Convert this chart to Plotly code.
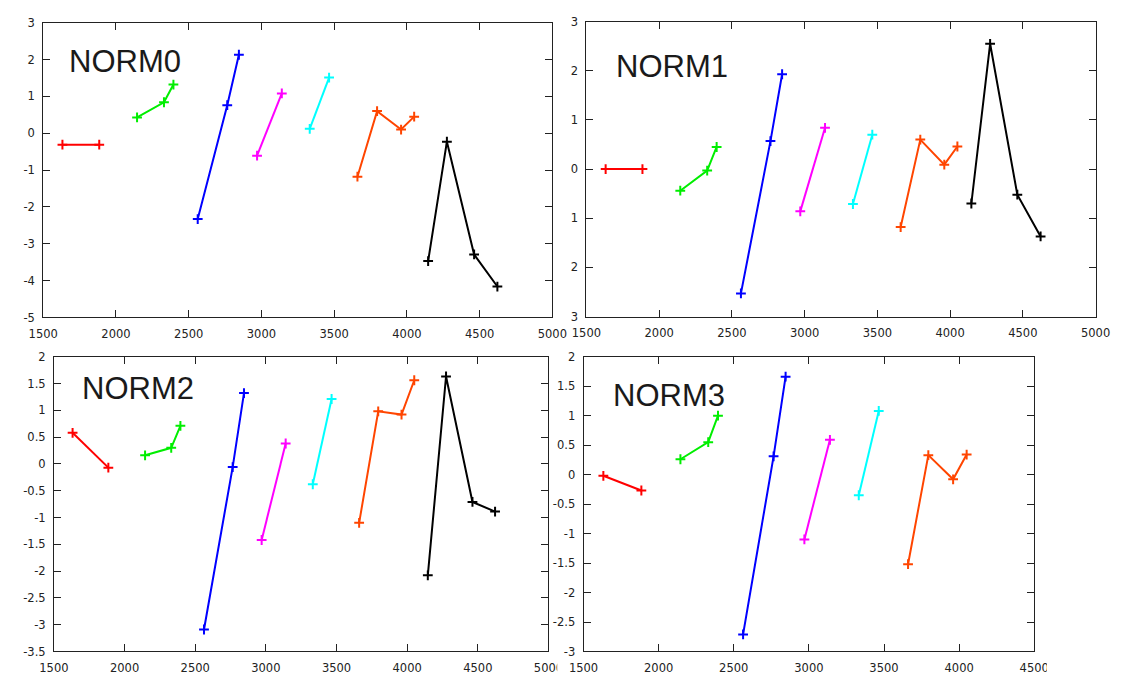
import plotly.graph_objects as go

W, H = 1132, 682

# ---- data (x positions shared by all panels) ----
X_RED = [1632, 1885]
X_GREEN = [2145, 2330, 2395]
X_BLUE = [2562, 2765, 2845]
X_MAGENTA = [2970, 3140]
X_CYAN = [3332, 3465]
X_ORANGE = [3660, 3795, 3960, 4050]
X_BLACK = [4146, 4275, 4462, 4622]

NORM0_RED = [-0.31, -0.31]
NORM0_GREEN = [0.43, 0.84, 1.32]
NORM0_BLUE = [-2.33, 0.76, 2.13]
NORM0_MAGENTA = [-0.61, 1.08]
NORM0_CYAN = [0.12, 1.51]
NORM0_ORANGE = [-1.18, 0.60, 0.10, 0.45]
NORM0_BLACK = [-3.47, -0.23, -3.29, -4.16]

NORM1_RED = [0.0, 0.0]
NORM1_GREEN = [-0.44, -0.03, 0.45]
NORM1_BLUE = [-2.53, 0.57, 1.93]
NORM1_MAGENTA = [-0.86, 0.84]
NORM1_CYAN = [-0.71, 0.70]
NORM1_ORANGE = [-1.18, 0.60, 0.09, 0.46]
NORM1_BLACK = [-0.70, 2.55, -0.52, -1.37]

NORM2_RED = [0.58, -0.07]
NORM2_GREEN = [0.16, 0.30, 0.71]
NORM2_BLUE = [-3.09, -0.06, 1.32]
NORM2_MAGENTA = [-1.42, 0.38]
NORM2_CYAN = [-0.38, 1.21]
NORM2_ORANGE = [-1.10, 0.98, 0.92, 1.56]
NORM2_BLACK = [-2.08, 1.63, -0.71, -0.89]

NORM3_RED = [-0.02, -0.27]
NORM3_GREEN = [0.26, 0.55, 1.00]
NORM3_BLUE = [-2.71, 0.31, 1.66]
NORM3_MAGENTA = [-1.10, 0.59]
NORM3_CYAN = [-0.35, 1.08]
NORM3_ORANGE = [-1.52, 0.33, -0.08, 0.34]

PANEL_TITLES = ["NORM0", "NORM1", "NORM2", "NORM3"]

X_TICKS_A = [1500, 2000, 2500, 3000, 3500, 4000, 4500, 5000]
X_TICKS_B = [1500, 2000, 2500, 3000, 3500, 4000, 4500]

Y0_TICKS = [-5, -4, -3, -2, -1, 0, 1, 2, 3]
Y0_LABELS = ["-5", "-4", "-3", "-2", "-1", "0", "1", "2", "3"]
Y1_TICKS = [-3, -2, -1, 0, 1, 2, 3]
Y1_LABELS = ["3", "2", "1", "0", "1", "2", "3"]
Y2_TICKS = [-3.5, -3, -2.5, -2, -1.5, -1, -0.5, 0, 0.5, 1, 1.5, 2]
Y2_LABELS = ["-3.5", "-3", "-2.5", "-2", "-1.5", "-1", "-0.5", "0", "0.5", "1", "1.5", "2"]
Y3_TICKS = [-3, -2.5, -2, -1.5, -1, -0.5, 0, 0.5, 1, 1.5, 2]
Y3_LABELS = ["-3", "-2.5", "-2", "-1.5", "-1", "-0.5", "0", "0.5", "1", "1.5", "2"]

COLORS = {
    "red": "#ff0000",
    "green": "#00ee00",
    "blue": "#0000ff",
    "magenta": "#ff00ff",
    "cyan": "#00ffff",
    "orange": "#ff4500",
    "black": "#000000",
}

X_SERIES = {
    "red": X_RED, "green": X_GREEN, "blue": X_BLUE, "magenta": X_MAGENTA,
    "cyan": X_CYAN, "orange": X_ORANGE, "black": X_BLACK,
}

PANELS = [
    {"red": NORM0_RED, "green": NORM0_GREEN, "blue": NORM0_BLUE, "magenta": NORM0_MAGENTA,
     "cyan": NORM0_CYAN, "orange": NORM0_ORANGE, "black": NORM0_BLACK},
    {"red": NORM1_RED, "green": NORM1_GREEN, "blue": NORM1_BLUE, "magenta": NORM1_MAGENTA,
     "cyan": NORM1_CYAN, "orange": NORM1_ORANGE, "black": NORM1_BLACK},
    {"red": NORM2_RED, "green": NORM2_GREEN, "blue": NORM2_BLUE, "magenta": NORM2_MAGENTA,
     "cyan": NORM2_CYAN, "orange": NORM2_ORANGE, "black": NORM2_BLACK},
    {"red": NORM3_RED, "green": NORM3_GREEN, "blue": NORM3_BLUE, "magenta": NORM3_MAGENTA,
     "cyan": NORM3_CYAN, "orange": NORM3_ORANGE},
]

# pixel boxes of each plot area: (left, right, top, bottom)
BOXES = [(29, 552, 16, 317), (587, 1110, 15, 316), (40, 548, 357, 658), (584, 1047, 357, 658)]
X_RANGES = [[1500, 5000], [1500, 5000], [1500, 5000], [1500, 4500]]
X_TICKS = [X_TICKS_A, X_TICKS_A, X_TICKS_A, X_TICKS_B]
Y_RANGES = [[-5, 3], [-3, 3], [-3.5, 2], [-3, 2]]
Y_TICKS = [(Y0_TICKS, Y0_LABELS), (Y1_TICKS, Y1_LABELS), (Y2_TICKS, Y2_LABELS), (Y3_TICKS, Y3_LABELS)]
TITLE_POS = [(53, 56), (615, 61), (67, 390), (612, 397)]

fig = go.Figure()
layout = {}
tick_font = dict(family="DejaVu Sans", size=11.5, color="#222222")

for i, panel in enumerate(PANELS):
    n = "" if i == 0 else str(i + 1)
    xa, ya = "x" + n, "y" + n
    for name, yvals in panel.items():
        c = COLORS[name]
        fig.add_trace(go.Scatter(
            x=X_SERIES[name], y=yvals, xaxis=xa, yaxis=ya, mode="lines+markers",
            line=dict(color=c, width=2),
            marker=dict(symbol="cross-thin", size=7, line=dict(color=c, width=2)),
            showlegend=False, cliponaxis=False,
        ))
    l, r, t, b = BOXES[i]
    layout["xaxis" + n] = dict(
        domain=[l / W, r / W], range=X_RANGES[i], anchor=ya,
        tickvals=X_TICKS[i], ticktext=[str(v) for v in X_TICKS[i]],
        ticks="inside", ticklen=7, tickcolor="#222", tickwidth=1,
        showline=True, linecolor="#222", linewidth=1, mirror="allticks",
        showgrid=False, zeroline=False, tickfont=tick_font, ticklabelstandoff=6,
        fixedrange=True,
    )
    tv, tt = Y_TICKS[i]
    layout["yaxis" + n] = dict(
        domain=[1 - b / H, 1 - t / H], range=Y_RANGES[i], anchor=xa,
        tickvals=tv, ticktext=tt,
        ticks="inside", ticklen=7, tickcolor="#222", tickwidth=1,
        showline=True, linecolor="#222", linewidth=1, mirror="allticks",
        showgrid=False, zeroline=False, tickfont=tick_font, ticklabelstandoff=5,
        fixedrange=True,
    )

annotations = []
for i, title in enumerate(PANEL_TITLES):
    px, py = TITLE_POS[i]
    annotations.append(dict(
        text=title, x=px / W, y=1 - py / H, xref="paper", yref="paper",
        xanchor="left", yanchor="middle", showarrow=False,
        font=dict(family="Liberation Sans", size=31, color="#1a1a1a"),
    ))

# white masks reproducing the cropped edges of the composite picture
shapes = [
    dict(type="rect", xref="paper", yref="paper", layer="above",
         x0=557 / W, x1=568 / W, y0=0, y1=1 - 665 / H,
         fillcolor="white", line=dict(width=0)),
    dict(type="rect", xref="paper", yref="paper", layer="above",
         x0=1060 / W, x1=1, y0=0, y1=1 - 340 / H,
         fillcolor="white", line=dict(width=0)),
]

fig.update_layout(
    width=W, height=H, margin=dict(l=0, r=0, t=0, b=0),
    paper_bgcolor="white", plot_bgcolor="white",
    annotations=annotations, shapes=shapes, **layout,
)

fig.write_html("out.html")
